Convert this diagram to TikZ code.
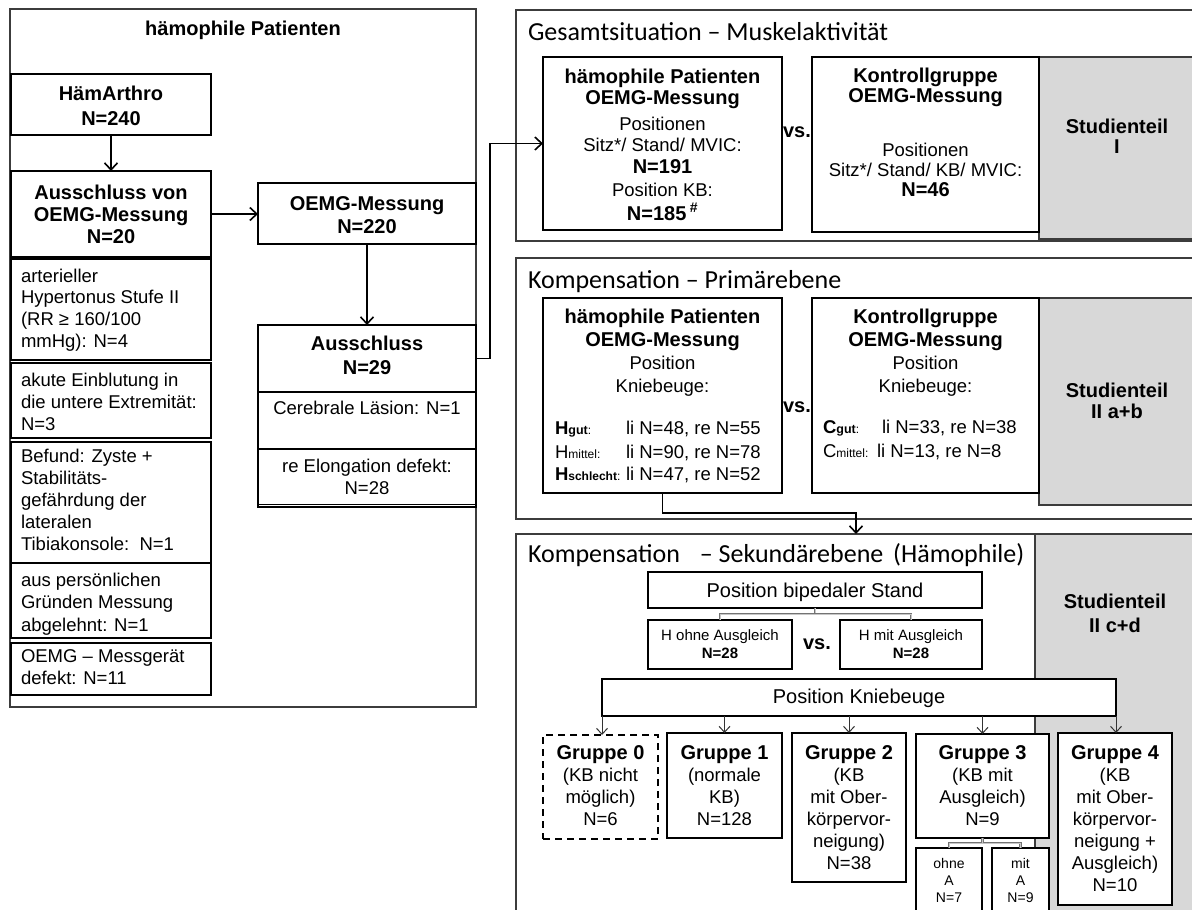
\documentclass[tikz,border=0pt]{standalone}
\usepackage{fontspec}
\setmainfont{Liberation Sans}
\newfontfamily\calfont{Carlito}
\usetikzlibrary{arrows.meta}

\definecolor{shadegrey}{RGB}{216,216,216}
\definecolor{rulegrey}{RGB}{60,60,60}

% font helpers: bold / regular with a given baseline skip
\newcommand\fB[1]{\fontsize{20}{#1}\selectfont\bfseries}
\newcommand\fR[1]{\fontsize{18.5}{#1}\selectfont}
\newcommand\B[1]{{\fontsize{20}{20}\selectfont\bfseries #1}}
% multi-line block whose baseline is the first line
\newcommand\ml[2]{\begin{tabular}[t]{@{}#1@{}}#2\end{tabular}}
% rectangle node from corner coordinates: [style]{name}{x1}{y1}{x2}{y2}
\newcommand\mkbox[6][cell]{\node[#1, minimum width={#5-#3}, minimum height={#6-#4}] (#2) at ({(#3+#5)/2},{(#4+#6)/2}) {};}

\tikzset{
  cell/.style={rectangle, draw=black, line width=1.2pt, fill=white, inner sep=0pt, outer sep=0pt},
  frame/.style={rectangle, draw=rulegrey, line width=1.3pt, fill=white, inner sep=0pt, outer sep=0pt},
  shaded/.style={rectangle, draw=rulegrey, line width=1.3pt, fill=shadegrey, inner sep=0pt, outer sep=0pt},
  dashcell/.style={cell, line width=2pt, dash pattern=on 7pt off 5pt},
  txt/.style={inner sep=0pt, outer sep=0pt, anchor=base},
  ltxt/.style={inner sep=0pt, outer sep=0pt, anchor=base west},
  ptitle/.style={ltxt, font=\calfont\fontsize{26}{30}\selectfont},
  flow/.style={line width=1.8pt, -{Straight Barb[length=7pt,width=13pt,line width=1.6pt]}},
  thinflow/.style={line width=1pt, draw=black!80, -{Straight Barb[length=6pt,width=11pt,line width=1pt]}},
  branch/.style={draw=black!55, line width=0.6pt, double=black!22, double distance=0.9pt},
}

\begin{document}
\begin{tikzpicture}[x=1pt,y=-1pt]
\useasboundingbox (0,0) rectangle (1192,910);
\clip (0,0) rectangle (1192,910);
\fill[white] (0,0) rectangle (1192,910);

% ---------------- left column: patients ----------------
\mkbox[frame]{lp}{10}{9}{476}{707}
\node[txt, font=\fB{22}] (lpt) at (243,35) {hämophile Patienten};

\mkbox{ha}{11}{74}{211}{135}
\node[txt, font=\fB{25}] (hat) at (111,100) {\ml{c}{HämArthro\\N=240}};

\mkbox{av}{11}{171}{211}{257}
\node[txt, font=\fB{22}] (avt) at (111,199) {\ml{c}{Ausschluss von\\OEMG-Messung\\N=20}};

\mkbox{b1}{11}{259}{211}{360}
\node[ltxt, font=\fR{21.7}] (b1t) at (21,282) {\ml{l}{arterieller\\Hypertonus Stufe II\\(RR ≥ 160/100\\mmHg): N=4}};
\mkbox{b2}{11}{363}{211}{438}
\node[ltxt, font=\fR{22}] (b2t) at (21,386) {\ml{l}{akute Einblutung in\\die untere Extremität:\\N=3}};
\mkbox{b3}{11}{442}{211}{563}
\node[ltxt, font=\fR{22.2}] (b3t) at (21,462) {\ml{l}{Befund: Zyste +\\Stabilitäts-\\gefährdung der\\lateralen\\Tibiakonsole:\ \ N=1}};
\mkbox{b4}{11}{563}{211}{638}
\node[ltxt, font=\fR{22.5}] (b4t) at (21,586) {\ml{l}{aus persönlichen\\Gründen Messung\\abgelehnt: N=1}};
\mkbox{b5}{11}{643}{211}{695}
\node[ltxt, font=\fR{22}] (b5t) at (21,662) {\ml{l}{OEMG – Messgerät\\defekt: N=11}};

\mkbox{oem}{258}{183}{476}{244}
\node[txt, font=\fB{23}] (oemt) at (367,210) {\ml{c}{OEMG-Messung\\N=220}};

\mkbox{aush}{258}{325}{476}{392}
\node[txt, font=\fB{24}] (ausht) at (367,350) {\ml{c}{Ausschluss\\N=29}};
\mkbox{aus1}{258}{392}{476}{449}
\node[txt, font=\fR{22}] (aus1t) at (367,414) {Cerebrale Läsion: N=1};
\mkbox{aus2}{258}{449}{476}{507}
\draw[line width=1.2pt] (aus2.south west) ++(0,-2.5) -- ++(218,0);
\node[txt, font=\fR{22}] (aus2t) at (367,472) {\ml{c}{re Elongation defekt:\\N=28}};

\draw[flow] (ha.south) -- (av.north);
\draw[flow] (av.east) -- (av.east -| oem.west);
\draw[flow] (oem.south) -- (aush.north);

% ---------------- panel: Gesamtsituation ----------------
\mkbox[frame]{p1}{516}{10}{1200}{241}
\node[ptitle] (p1t) at (528,40) {Gesamtsituation – Muskelaktivität};
\mkbox[shaded]{s1}{1039}{57}{1200}{239}
\node[txt, font=\fB{20}] (s1t) at (1117,133) {\ml{c}{Studienteil\\I}};
\mkbox{hp1}{543}{57}{782}{230}
\node[txt, font=\fR{21.5}] (hp1t) at (662.5,83) {\ml{c}{\B{hämophile Patienten}\\\B{OEMG-Messung}\\[4pt]Positionen\\Sitz*/ Stand/ MVIC:\\\B{N=191}\\[2pt]Position KB:\\\B{N=185\,\textsuperscript{\#}}}};
\node[txt, font=\fB{20}] (vs1) at (797,137) {vs.};
\mkbox{kg1}{812}{57}{1039}{232}
\node[txt, font=\fR{20}] (kg1t) at (925.5,82) {\ml{c}{\B{Kontrollgruppe}\\\B{OEMG-Messung}\\[34pt]Positionen\\Sitz*/ Stand/ KB/ MVIC:\\\B{N=46}}};

\draw[flow] (aush.east) -- ++(14,0) |- (hp1.west);

% ---------------- panel: Primärebene ----------------
\mkbox[frame]{p2}{516}{258}{1200}{519}
\node[ptitle] (p2t) at (528,288) {Kompensation – Primärebene};
\mkbox[shaded]{s2}{1039}{298}{1200}{505}
\node[txt, font=\fB{21}] (s2t) at (1117,397) {\ml{c}{Studienteil\\II a+b}};
\mkbox{hp2}{543}{298}{782}{493}
\node[txt, font=\fR{23}] (hp2t) at (662.5,323) {\ml{c}{\B{hämophile Patienten}\\\B{OEMG-Messung}\\Position\\Kniebeuge:}};
\node[ltxt, font=\fR{22}] (hgut) at (555,434) {\makebox[71pt][l]{\textbf{H}{\fontsize{12.5}{14}\selectfont\bfseries gut}{\fontsize{12}{14}\selectfont:}}li N=48, re N=55};
\node[ltxt, font=\fR{22}] (hmit) at (555,458) {\makebox[71pt][l]{H{\fontsize{12}{14}\selectfont mittel:}}li N=90, re N=78};
\node[ltxt, font=\fR{22}] (hsch) at (555,480) {\makebox[71pt][l]{\textbf{H}{\fontsize{12}{14}\selectfont\bfseries schlecht}{\fontsize{12}{14}\selectfont:}}li N=47, re N=52};
\node[txt, font=\fB{20}] (vs2) at (797,412) {vs.};
\mkbox{kg2}{812}{298}{1039}{493}
\node[txt, font=\fR{23}] (kg2t) at (925.5,323) {\ml{c}{\B{Kontrollgruppe}\\\B{OEMG-Messung}\\Position\\Kniebeuge:}};
\node[ltxt, font=\fR{22}] (cgut) at (823,433) {\makebox[59pt][l]{\textbf{C}{\fontsize{12.5}{14}\selectfont\bfseries gut}{\fontsize{12}{14}\selectfont:}}li N=33, re N=38};
\node[ltxt, font=\fR{22}] (cmit) at (823,457) {\makebox[54pt][l]{C{\fontsize{12}{14}\selectfont mittel:}}li N=13, re N=8};

% ---------------- panel: Sekundärebene ----------------
\mkbox[frame]{p3}{516}{534}{1035}{915}
\mkbox[shaded]{s3}{1035}{534}{1200}{915}
\coordinate (p3in) at (856,534);
\node[ptitle] (p3t) at (528,562) {Kompensation\hspace{14pt} – Sekundärebene\hspace{4pt} (Hämophile)};
\node[txt, font=\fB{24}] (s3t) at (1115,608) {\ml{c}{Studienteil\\II c+d}};

\draw[flow] (hp2.south) -- ++(0,20) -| (p3in);

\mkbox{pbs}{648}{572}{982}{608}
\node[txt, font=\fontsize{20}{22}\selectfont] (pbst) at (815,597) {Position bipedaler Stand};
\mkbox{hoa}{648}{620}{792}{669}
\node[txt, font=\fontsize{15}{18}\selectfont] (hoat) at (720,640) {\ml{c}{H ohne Ausgleich\\\textbf{N=28}}};
\node[txt, font=\fB{20}] (vs3) at (817,649) {vs.};
\mkbox{hma}{840}{620}{982}{669}
\node[txt, font=\fontsize{15}{18}\selectfont] (hmat) at (911,640) {\ml{c}{H mit Ausgleich\\\textbf{N=28}}};
\draw[branch] (pbs.south) -- ++(0,6) -| (hoa.north);
\draw[branch] (pbs.south) ++(0,6) -| (hma.north);

\mkbox{pkb}{602}{679}{1116}{716}
\node[txt, font=\fontsize{20}{22}\selectfont] (pkbt) at (859,703) {Position Kniebeuge};

\mkbox[dashcell]{g0}{543}{735}{658}{839}
\mkbox{g1}{667}{733}{782}{838}
\mkbox{g2}{792}{733}{906}{882}
\mkbox{g3}{916}{734}{1049}{838}
\mkbox{g4}{1058}{733}{1172}{905}
\mkbox{oA}{916}{848}{982}{920}
\mkbox{mA}{992}{848}{1049}{920}

\draw[thinflow] (pkb.south west) -- (pkb.south west |- g0.north);
\draw[thinflow] (g1.north |- pkb.south) -- (g1.north);
\draw[thinflow] (g2.north |- pkb.south) -- (g2.north);
\draw[thinflow] (g3.north |- pkb.south) -- (g3.north);
\draw[thinflow] (pkb.south east) -- (pkb.south east |- g4.north);
\draw[branch] (g3.south) -- ++(0,5) -| (oA.north);
\draw[branch] (g3.south) ++(0,5) -| (mA.north);

\node[txt, font=\fR{22}] (g0t) at (600.5,759) {\ml{c}{\B{Gruppe 0}\\(KB nicht\\möglich)\\N=6}};
\node[txt, font=\fR{22}] (g1t) at (724.5,759) {\ml{c}{\B{Gruppe 1}\\(normale\\KB)\\N=128}};
\node[txt, font=\fR{22}] (g2t) at (849,759) {\ml{c}{\B{Gruppe 2}\\(KB\\mit Ober-\\körpervor-\\neigung)\\N=38}};
\node[txt, font=\fR{22}] (g3t) at (982.5,759) {\ml{c}{\B{Gruppe 3}\\(KB mit\\Ausgleich)\\N=9}};
\node[txt, font=\fR{22}] (g4t) at (1115,759) {\ml{c}{\B{Gruppe 4}\\(KB\\mit Ober-\\körpervor-\\neigung +\\Ausgleich)\\N=10}};
\node[txt, font=\fontsize{14}{17}\selectfont] (oAt) at (949,868) {\ml{c}{ohne\\A\\N=7}};
\node[txt, font=\fontsize{14}{17}\selectfont] (mAt) at (1020.5,868) {\ml{c}{mit\\A\\N=9}};
\end{tikzpicture}
\end{document}
